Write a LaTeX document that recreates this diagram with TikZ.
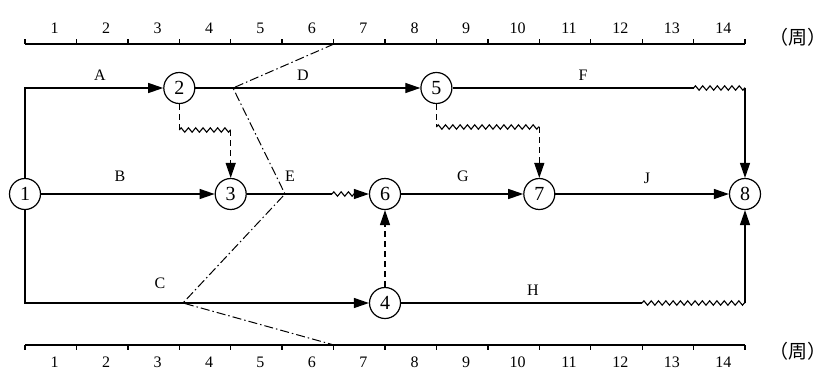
\documentclass[tikz,border=0pt]{standalone}
\usepackage{fontspec}
\setmainfont{Liberation Serif}
\newfontfamily\cjk{Noto Sans CJK SC}
\usetikzlibrary{arrows.meta,decorations.pathmorphing}
\begin{document}
\begin{tikzpicture}[x=1pt,y=-1pt,
  ev/.style={circle,draw,line width=1.2pt,minimum size=31pt,inner sep=0pt,font=\fontsize{20}{22}\selectfont,fill=white},
  act/.style={line width=1.3pt,-{Triangle[length=15pt,width=10pt]}},
  ln/.style={line width=1.3pt},
  dum/.style={line width=1.3pt,dash pattern=on 6pt off 4pt},
  wav/.style={line width=1.1pt,decorate,decoration={zigzag,segment length=7.3pt,amplitude=2.2pt}},
  chk/.style={line width=1pt,dash pattern=on 9pt off 3pt on 1.5pt off 3pt},
  lab/.style={font=\fontsize{16}{19}\selectfont},
  unit/.style={font=\cjk\fontsize{19}{22}\selectfont},
]
\useasboundingbox (0,0) rectangle (840,389);
% time scales
\draw[ln] (25,44) coordinate (ta) -- (745,44) coordinate (tb);
\draw[ln] (25,345) coordinate (ba) -- (745,345) coordinate (bb);
\foreach \i in {0,...,14} {
  \draw[ln] ({25+\i*51.4286},44) -- ++(0,-5);
  \draw[ln] ({25+\i*51.4286},345) -- ++(0,5);
}
\foreach \i in {1,...,14} {
  \node[lab] (tl\i) at ({29+(\i-0.5)*51.4286},28) {\i};
  \node[lab] (bl\i) at ({29+(\i-0.5)*51.4286},362) {\i};
}
\node[unit] (u1) at (798,37) {（周）};
\node[unit] (u2) at (798,351) {（周）};
% check line
\coordinate (k0) at (334,44);
\coordinate (k1) at (233,88);
\coordinate (k2) at (285,194);
\coordinate (k3) at (183,303);
\coordinate (k4) at (334,345);
\draw[chk] (k0) -- (k1) -- (k2) -- (k3) -- (k4);
% events
\node[ev] (n1) at (25,194) {1};
\node[ev] (n2) at (179.3,88) {2};
\node[ev] (n3) at (230.7,194) {3};
\node[ev] (n4) at (385,303) {4};
\node[ev] (n5) at (436.4,88) {5};
\node[ev] (n6) at (385,194) {6};
\node[ev] (n7) at (539.3,194) {7};
\node[ev] (n8) at (745,194) {8};
% activities
\draw[act] (n1) |- (n2);
\draw[act] (n2) -- (n5);
\draw[act] (n1) -- (n3);
\draw[act] (n1) |- (n4);
\draw[act] (n6) -- (n7);
\draw[act] (n7) -- (n8);
% F
\coordinate (f1) at (693.6,88);
\coordinate (f2) at (745,88);
\draw[ln] (n5) -- (f1);
\draw[wav] (f1) -- (f2);
\draw[act] (f2) -- (n8);
% H
\coordinate (h1) at (642.1,303);
\coordinate (h2) at (745,303);
\draw[ln] (n4) -- (h1);
\draw[wav] (h1) -- (h2);
\draw[act] (h2) -- (n8);
% E
\coordinate (e1) at (332,194);
\coordinate (e2) at (356,194);
\draw[ln] (n3) -- (e1);
\draw[wav] (e1) -- (e2);
\draw[act] (e2) -- (n6);
% dummy 2-3
\coordinate (d1) at (179.3,130);
\coordinate (d2) at (230.7,130);
\draw[dum] (n2) -- (d1);
\draw[wav] (d1) -- (d2);
\draw[dum,-{Triangle[length=15pt,width=10pt]}] (d2) -- (n3);
% dummy 5-7
\coordinate (g1) at (436.4,127);
\coordinate (g2) at (539.3,127);
\draw[dum] (n5) -- (g1);
\draw[wav] (g1) -- (g2);
\draw[dum,-{Triangle[length=15pt,width=10pt]}] (g2) -- (n7);
% dummy 4-6
\draw[dum,-{Triangle[length=15pt,width=10pt]}] (n4) -- (n6);
% labels
\node[lab] (lA) at (100,75) {A};
\node[lab] (lD) at (303,75) {D};
\node[lab] (lF) at (583,75) {F};
\node[lab] (lB) at (120,176) {B};
\node[lab] (lE) at (290,176) {E};
\node[lab] (lG) at (463,176) {G};
\node[lab] (lJ) at (647,178) {J};
\node[lab] (lC) at (160,283) {C};
\node[lab] (lH) at (533,290) {H};
\end{tikzpicture}
\end{document}
